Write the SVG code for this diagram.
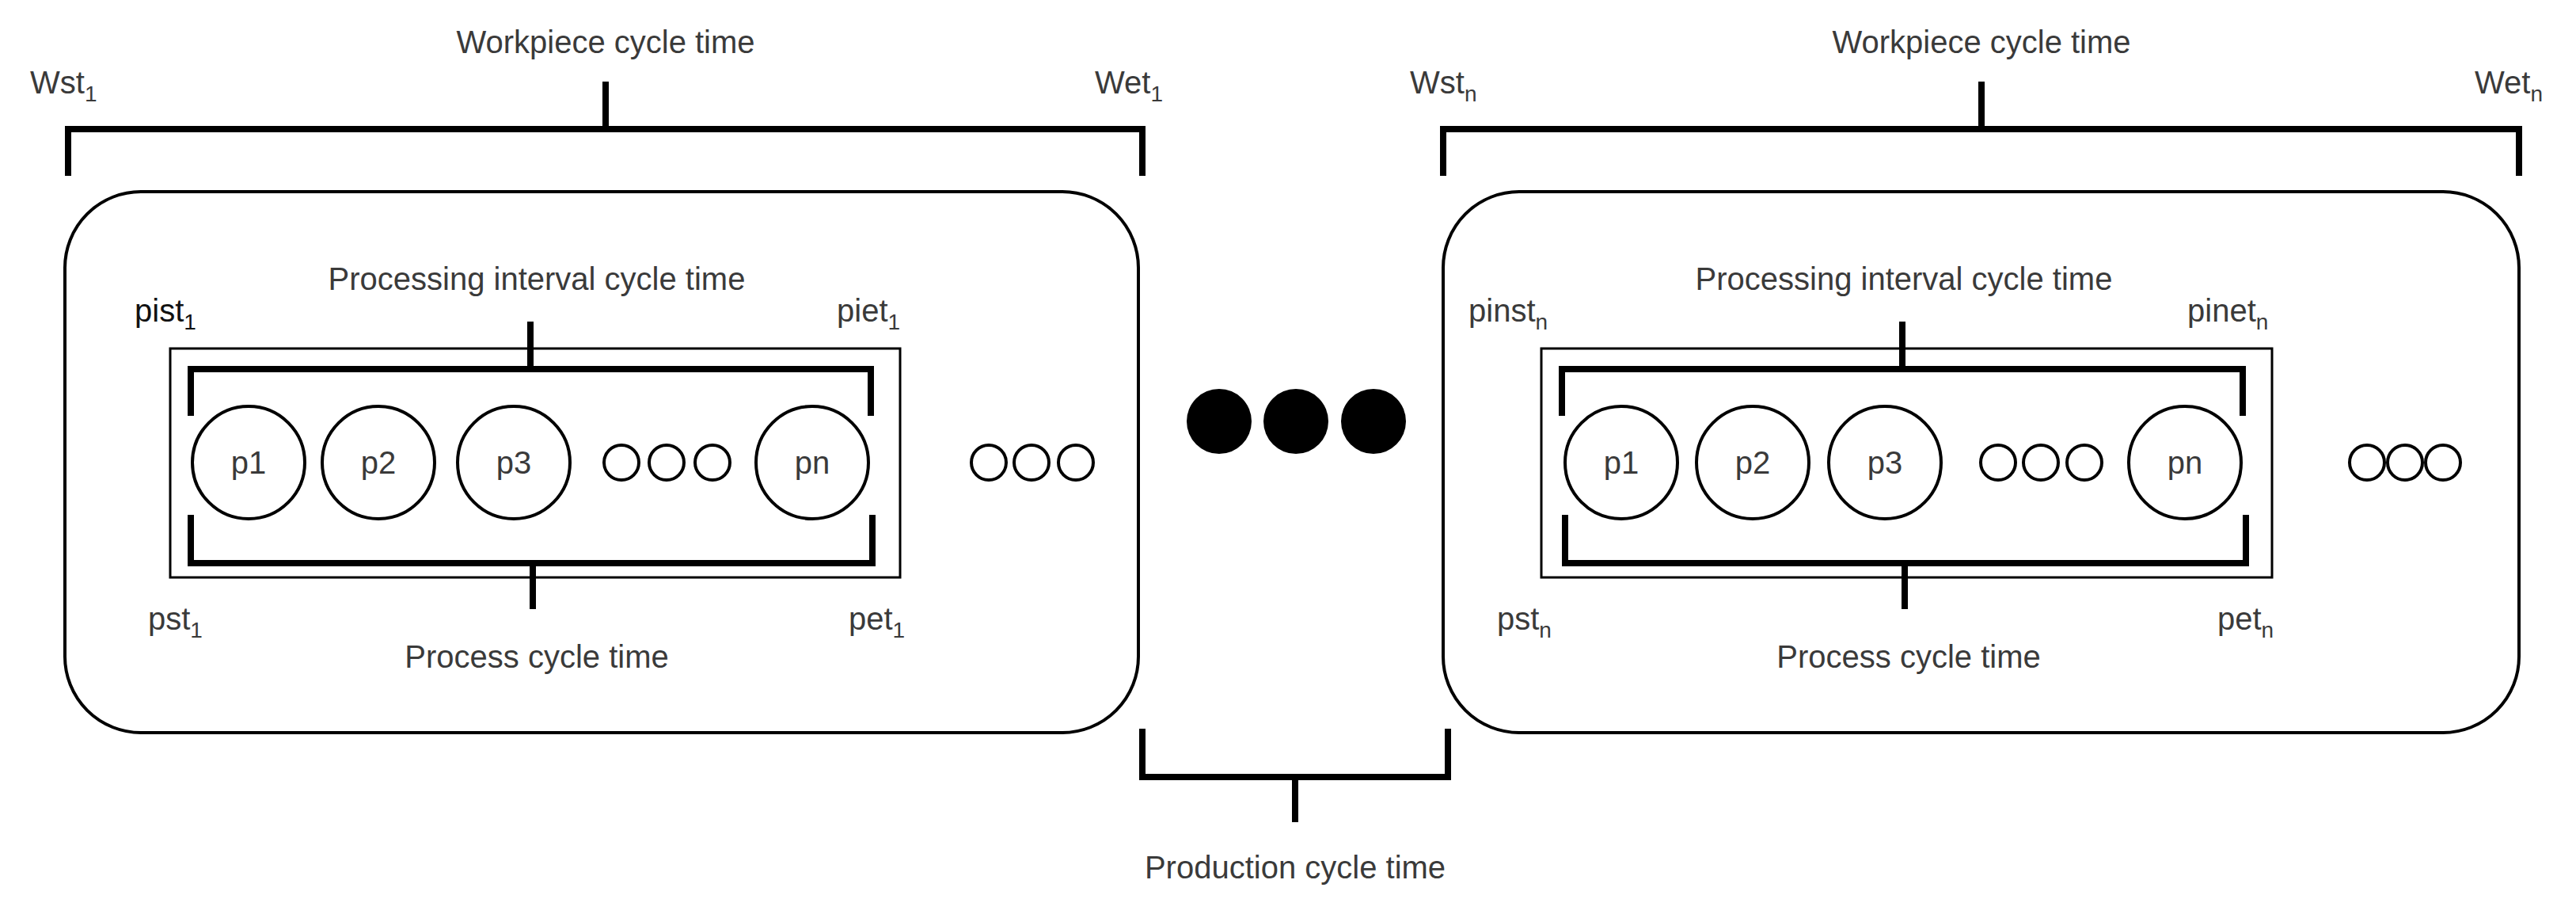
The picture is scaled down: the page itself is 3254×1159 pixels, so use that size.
<svg xmlns="http://www.w3.org/2000/svg" width="3254" height="1159" viewBox="0 0 3254 1159">
<style>
text{font-family:"Liberation Sans",Arial,sans-serif;font-size:40px;fill:#3a3a3a}
.c{text-anchor:middle}
.sub{font-size:28px}
.br{fill:none;stroke:#000;stroke-width:8}
.box{fill:#fff;stroke:#000;stroke-width:4}
.in{fill:none;stroke:#000;stroke-width:3}
.p{fill:#fff;stroke:#000;stroke-width:4}
.s{fill:#fff;stroke:#000;stroke-width:4}
</style>
<rect width="3254" height="1159" fill="#fff"/>
<g id="workpiece1">
<rect class="box" x="82" y="242" width="1356" height="683" rx="96"/>
<rect class="in" x="215" y="440" width="922" height="289"/>
<g id="p1_1"><circle class="p" cx="314" cy="584" r="71"/><text class="c" x="314" y="598">p1</text></g>
<g id="p2_1"><circle class="p" cx="478" cy="584" r="71"/><text class="c" x="478" y="598">p2</text></g>
<g id="p3_1"><circle class="p" cx="649" cy="584" r="71"/><text class="c" x="649" y="598">p3</text></g>
<g id="pn_1"><circle class="p" cx="1026" cy="584" r="71"/><text class="c" x="1026" y="598">pn</text></g>
<circle class="s" cx="785" cy="584" r="22"/><circle class="s" cx="842" cy="584" r="22"/><circle class="s" cx="900" cy="584" r="22"/>
<circle class="s" cx="1249" cy="584" r="22"/><circle class="s" cx="1303" cy="584" r="22"/><circle class="s" cx="1359" cy="584" r="22"/>
<text class="c" x="765" y="67">Workpiece cycle time</text>
<text x="38" y="118">Wst<tspan class="sub" dy="10">1</tspan></text>
<text x="1383" y="118">Wet<tspan class="sub" dy="10">1</tspan></text>
<text class="c" x="678" y="366">Processing interval cycle time</text>
<text x="170" y="406" style="fill:#111">pist<tspan class="sub" dy="10">1</tspan></text>
<text x="1057" y="406">piet<tspan class="sub" dy="10">1</tspan></text>
<text x="187" y="795">pst<tspan class="sub" dy="10">1</tspan></text>
<text x="1072" y="795">pet<tspan class="sub" dy="10">1</tspan></text>
<text class="c" x="678" y="843">Process cycle time</text>
</g>
<g id="workpieceN">
<rect class="box" x="1823" y="242" width="1359" height="683" rx="96"/>
<rect class="in" x="1947" y="440" width="923" height="289"/>
<g id="p1_n"><circle class="p" cx="2048" cy="584" r="71"/><text class="c" x="2048" y="598">p1</text></g>
<g id="p2_n"><circle class="p" cx="2214" cy="584" r="71"/><text class="c" x="2214" y="598">p2</text></g>
<g id="p3_n"><circle class="p" cx="2381" cy="584" r="71"/><text class="c" x="2381" y="598">p3</text></g>
<g id="pn_n"><circle class="p" cx="2760" cy="584" r="71"/><text class="c" x="2760" y="598">pn</text></g>
<circle class="s" cx="2524" cy="584" r="22"/><circle class="s" cx="2578" cy="584" r="22"/><circle class="s" cx="2633" cy="584" r="22"/>
<circle class="s" cx="2990" cy="584" r="22"/><circle class="s" cx="3038" cy="584" r="22"/><circle class="s" cx="3086" cy="584" r="22"/>
<text class="c" x="2503" y="67">Workpiece cycle time</text>
<text x="1781" y="118">Wst<tspan class="sub" dy="10">n</tspan></text>
<text x="3126" y="118">Wet<tspan class="sub" dy="10">n</tspan></text>
<text class="c" x="2405" y="366">Processing interval cycle time</text>
<text x="1855" y="406">pinst<tspan class="sub" dy="10">n</tspan></text>
<text x="2763" y="406">pinet<tspan class="sub" dy="10">n</tspan></text>
<text x="1891" y="795">pst<tspan class="sub" dy="10">n</tspan></text>
<text x="2801" y="795">pet<tspan class="sub" dy="10">n</tspan></text>
<text class="c" x="2411" y="843">Process cycle time</text>
</g>
<g id="ellipsis">
<circle cx="1540" cy="532" r="41"/><circle cx="1637" cy="532" r="41"/><circle cx="1735" cy="532" r="41"/>
</g>
<g id="connectors">
<path class="br" d="M86 222V163H1443V222M765 163V103"/>
<path class="br" d="M241 525V466H1100V525M670 466V406"/>
<path class="br" d="M241 650V711H1102V650M673 711V769"/>
<path class="br" d="M1823 222V163H3182V222M2503 163V103"/>
<path class="br" d="M1973 525V466H2833V525M2403 466V406"/>
<path class="br" d="M1977 650V711H2837V650M2406 711V769"/>
<path class="br" d="M1443 920V981H1829V920M1636 981V1038"/>
<text class="c" x="1636" y="1109">Production cycle time</text>
</g>
</svg>
